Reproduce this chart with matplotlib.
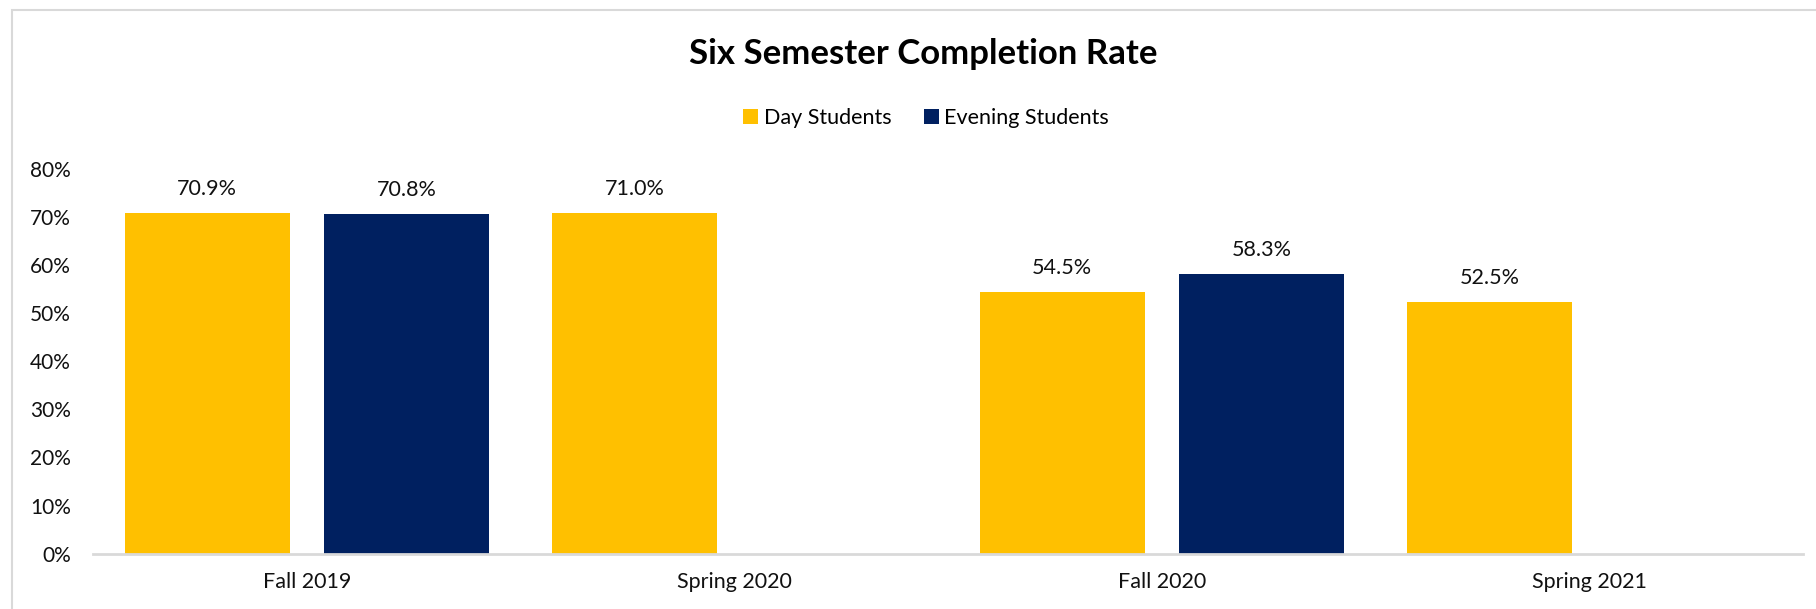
import numpy as np
import matplotlib
matplotlib.use("Agg")
import matplotlib.pyplot as plt
from matplotlib.patches import Rectangle, Patch

categories = ["Fall 2019", "Spring 2020", "Fall 2020", "Spring 2021"]
day_students = [70.9, 71.0, 54.5, 52.5]
evening_students = [70.8, np.nan, 58.3, np.nan]
series_names = ["Day Students", "Evening Students"]
colors = ["#FFC000", "#002060"]
yticks = [0, 10, 20, 30, 40, 50, 60, 70, 80]
title = "Six Semester Completion Rate"

plt.rcParams['font.family'] = ['Lato', 'DejaVu Sans']

W, H = 1816, 609
fig = plt.figure(figsize=(W / 100, H / 100), dpi=100)

# chart border
fig.patches.append(Rectangle((12 / W, -0.05), 1.1, 1 - 10 / H + 0.05, transform=fig.transFigure,
                             fill=False, edgecolor="#D9D9D9", linewidth=1.5))

left, right, bottom, top = 93, 1803, 553.5, 169.5
ax = fig.add_axes([left / W, 1 - bottom / H, (right - left) / W, (bottom - top) / H])

x = np.arange(len(categories))
bw = 0.386
off = 0.233
for i, (vals, c) in enumerate(zip([day_students, evening_students], colors)):
    pos = x + (-off if i == 0 else off)
    ax.bar(pos, vals, width=bw, color=c, zorder=2)
    for p, v in zip(pos, vals):
        if not np.isnan(v):
            ax.annotate(f"{v:.1f}%", (p, v), xytext=(0, 10), textcoords="offset points",
                        ha="center", va="bottom", fontsize=15.5, color="#111111")

ax.set_xlim(-0.5, len(categories) - 0.5)
ax.set_ylim(0, 80)
ax.set_yticks(yticks)
ax.set_yticklabels([f"{t}%" for t in yticks], fontsize=15, color="#111111")
ax.set_xticks(x)
ax.set_xticklabels(categories, fontsize=15.5, color="#111111")
ax.tick_params(axis="both", length=0)
ax.tick_params(axis="y", pad=16)
ax.tick_params(axis="x", pad=13)
for s in ["top", "right", "left"]:
    ax.spines[s].set_visible(False)
ax.spines["bottom"].set_color("#D9D9D9")
ax.spines["bottom"].set_linewidth(2)
ax.spines["bottom"].set_zorder(3)

fig.text(923 / W, 1 - 54 / H, title, ha="center", va="center", fontsize=25, fontweight="bold",
         color="#000000")

handles = [Patch(facecolor=c, edgecolor="none") for c in colors]
fig.legend(handles, series_names, loc="center", bbox_to_anchor=(926 / W, 1 - 118 / H), ncol=2,
           frameon=False, fontsize=15.5, handlelength=0.7, handleheight=0.7, handletextpad=0.25,
           columnspacing=1.5)

fig.savefig("out.png", dpi=100, facecolor="white")
